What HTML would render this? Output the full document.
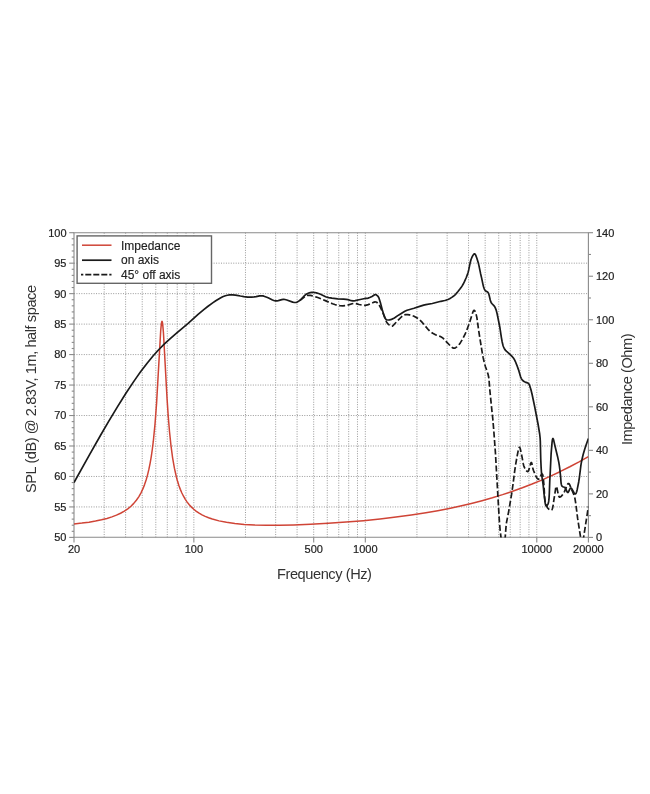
<!DOCTYPE html><html><head><meta charset="utf-8"><style>html,body{margin:0;padding:0;background:#fff;}svg{display:block;filter:blur(0.3px);}text{font-family:"Liberation Sans",sans-serif;}</style></head><body><svg width="650" height="794" viewBox="0 0 650 794"><rect width="650" height="794" fill="#fff"/><g stroke="#999" stroke-width="1" stroke-dasharray="1 1.45"><line x1="104.19" y1="232.70" x2="104.19" y2="537.40"/><line x1="125.62" y1="232.70" x2="125.62" y2="537.40"/><line x1="142.23" y1="232.70" x2="142.23" y2="537.40"/><line x1="155.81" y1="232.70" x2="155.81" y2="537.40"/><line x1="167.29" y1="232.70" x2="167.29" y2="537.40"/><line x1="177.23" y1="232.70" x2="177.23" y2="537.40"/><line x1="186.00" y1="232.70" x2="186.00" y2="537.40"/><line x1="193.85" y1="232.70" x2="193.85" y2="537.40"/><line x1="245.47" y1="232.70" x2="245.47" y2="537.40"/><line x1="275.66" y1="232.70" x2="275.66" y2="537.40"/><line x1="297.08" y1="232.70" x2="297.08" y2="537.40"/><line x1="313.70" y1="232.70" x2="313.70" y2="537.40"/><line x1="327.28" y1="232.70" x2="327.28" y2="537.40"/><line x1="338.76" y1="232.70" x2="338.76" y2="537.40"/><line x1="348.70" y1="232.70" x2="348.70" y2="537.40"/><line x1="357.47" y1="232.70" x2="357.47" y2="537.40"/><line x1="365.32" y1="232.70" x2="365.32" y2="537.40"/><line x1="416.93" y1="232.70" x2="416.93" y2="537.40"/><line x1="447.13" y1="232.70" x2="447.13" y2="537.40"/><line x1="468.55" y1="232.70" x2="468.55" y2="537.40"/><line x1="485.17" y1="232.70" x2="485.17" y2="537.40"/><line x1="498.74" y1="232.70" x2="498.74" y2="537.40"/><line x1="510.22" y1="232.70" x2="510.22" y2="537.40"/><line x1="520.17" y1="232.70" x2="520.17" y2="537.40"/><line x1="528.94" y1="232.70" x2="528.94" y2="537.40"/><line x1="536.78" y1="232.70" x2="536.78" y2="537.40"/><line x1="74.00" y1="506.93" x2="588.40" y2="506.93"/><line x1="74.00" y1="476.46" x2="588.40" y2="476.46"/><line x1="74.00" y1="445.99" x2="588.40" y2="445.99"/><line x1="74.00" y1="415.52" x2="588.40" y2="415.52"/><line x1="74.00" y1="385.05" x2="588.40" y2="385.05"/><line x1="74.00" y1="354.58" x2="588.40" y2="354.58"/><line x1="74.00" y1="324.11" x2="588.40" y2="324.11"/><line x1="74.00" y1="293.64" x2="588.40" y2="293.64"/><line x1="74.00" y1="263.17" x2="588.40" y2="263.17"/></g><g stroke="#8a8a8a" stroke-width="1.1"><line x1="73.50" y1="232.70" x2="588.90" y2="232.70"/><line x1="73.50" y1="537.30" x2="588.90" y2="537.30"/><line x1="74.00" y1="232.70" x2="74.00" y2="537.40"/><line x1="588.40" y1="232.70" x2="588.40" y2="537.40"/><line x1="69.20" y1="537.40" x2="74.00" y2="537.40"/><line x1="71.70" y1="531.31" x2="74.00" y2="531.31"/><line x1="71.70" y1="525.21" x2="74.00" y2="525.21"/><line x1="71.70" y1="519.12" x2="74.00" y2="519.12"/><line x1="71.70" y1="513.02" x2="74.00" y2="513.02"/><line x1="69.20" y1="506.93" x2="74.00" y2="506.93"/><line x1="71.70" y1="500.84" x2="74.00" y2="500.84"/><line x1="71.70" y1="494.74" x2="74.00" y2="494.74"/><line x1="71.70" y1="488.65" x2="74.00" y2="488.65"/><line x1="71.70" y1="482.55" x2="74.00" y2="482.55"/><line x1="69.20" y1="476.46" x2="74.00" y2="476.46"/><line x1="71.70" y1="470.37" x2="74.00" y2="470.37"/><line x1="71.70" y1="464.27" x2="74.00" y2="464.27"/><line x1="71.70" y1="458.18" x2="74.00" y2="458.18"/><line x1="71.70" y1="452.08" x2="74.00" y2="452.08"/><line x1="69.20" y1="445.99" x2="74.00" y2="445.99"/><line x1="71.70" y1="439.90" x2="74.00" y2="439.90"/><line x1="71.70" y1="433.80" x2="74.00" y2="433.80"/><line x1="71.70" y1="427.71" x2="74.00" y2="427.71"/><line x1="71.70" y1="421.61" x2="74.00" y2="421.61"/><line x1="69.20" y1="415.52" x2="74.00" y2="415.52"/><line x1="71.70" y1="409.43" x2="74.00" y2="409.43"/><line x1="71.70" y1="403.33" x2="74.00" y2="403.33"/><line x1="71.70" y1="397.24" x2="74.00" y2="397.24"/><line x1="71.70" y1="391.14" x2="74.00" y2="391.14"/><line x1="69.20" y1="385.05" x2="74.00" y2="385.05"/><line x1="71.70" y1="378.96" x2="74.00" y2="378.96"/><line x1="71.70" y1="372.86" x2="74.00" y2="372.86"/><line x1="71.70" y1="366.77" x2="74.00" y2="366.77"/><line x1="71.70" y1="360.67" x2="74.00" y2="360.67"/><line x1="69.20" y1="354.58" x2="74.00" y2="354.58"/><line x1="71.70" y1="348.49" x2="74.00" y2="348.49"/><line x1="71.70" y1="342.39" x2="74.00" y2="342.39"/><line x1="71.70" y1="336.30" x2="74.00" y2="336.30"/><line x1="71.70" y1="330.20" x2="74.00" y2="330.20"/><line x1="69.20" y1="324.11" x2="74.00" y2="324.11"/><line x1="71.70" y1="318.02" x2="74.00" y2="318.02"/><line x1="71.70" y1="311.92" x2="74.00" y2="311.92"/><line x1="71.70" y1="305.83" x2="74.00" y2="305.83"/><line x1="71.70" y1="299.73" x2="74.00" y2="299.73"/><line x1="69.20" y1="293.64" x2="74.00" y2="293.64"/><line x1="71.70" y1="287.55" x2="74.00" y2="287.55"/><line x1="71.70" y1="281.45" x2="74.00" y2="281.45"/><line x1="71.70" y1="275.36" x2="74.00" y2="275.36"/><line x1="71.70" y1="269.26" x2="74.00" y2="269.26"/><line x1="69.20" y1="263.17" x2="74.00" y2="263.17"/><line x1="71.70" y1="257.08" x2="74.00" y2="257.08"/><line x1="71.70" y1="250.98" x2="74.00" y2="250.98"/><line x1="71.70" y1="244.89" x2="74.00" y2="244.89"/><line x1="71.70" y1="238.79" x2="74.00" y2="238.79"/><line x1="69.20" y1="232.70" x2="74.00" y2="232.70"/><line x1="588.40" y1="537.40" x2="593.00" y2="537.40"/><line x1="588.40" y1="515.64" x2="591.00" y2="515.64"/><line x1="588.40" y1="493.87" x2="593.00" y2="493.87"/><line x1="588.40" y1="472.11" x2="591.00" y2="472.11"/><line x1="588.40" y1="450.34" x2="593.00" y2="450.34"/><line x1="588.40" y1="428.58" x2="591.00" y2="428.58"/><line x1="588.40" y1="406.81" x2="593.00" y2="406.81"/><line x1="588.40" y1="385.05" x2="591.00" y2="385.05"/><line x1="588.40" y1="363.29" x2="593.00" y2="363.29"/><line x1="588.40" y1="341.52" x2="591.00" y2="341.52"/><line x1="588.40" y1="319.76" x2="593.00" y2="319.76"/><line x1="588.40" y1="297.99" x2="591.00" y2="297.99"/><line x1="588.40" y1="276.23" x2="593.00" y2="276.23"/><line x1="588.40" y1="254.46" x2="591.00" y2="254.46"/><line x1="588.40" y1="232.70" x2="593.00" y2="232.70"/><line x1="74.00" y1="537.40" x2="74.00" y2="542.60"/><line x1="193.85" y1="537.40" x2="193.85" y2="542.60"/><line x1="313.70" y1="537.40" x2="313.70" y2="542.60"/><line x1="365.32" y1="537.40" x2="365.32" y2="542.60"/><line x1="536.78" y1="537.40" x2="536.78" y2="542.60"/><line x1="588.40" y1="537.40" x2="588.40" y2="542.60"/></g><g font-size="11" fill="#222" stroke="#222" stroke-width="0.2"><text x="66.5" y="541.30" text-anchor="end">50</text><text x="66.5" y="510.83" text-anchor="end">55</text><text x="66.5" y="480.36" text-anchor="end">60</text><text x="66.5" y="449.89" text-anchor="end">65</text><text x="66.5" y="419.42" text-anchor="end">70</text><text x="66.5" y="388.95" text-anchor="end">75</text><text x="66.5" y="358.48" text-anchor="end">80</text><text x="66.5" y="328.01" text-anchor="end">85</text><text x="66.5" y="297.54" text-anchor="end">90</text><text x="66.5" y="267.07" text-anchor="end">95</text><text x="66.5" y="236.60" text-anchor="end">100</text><text x="596" y="541.30">0</text><text x="596" y="497.77">20</text><text x="596" y="454.24">40</text><text x="596" y="410.71">60</text><text x="596" y="367.19">80</text><text x="596" y="323.66">100</text><text x="596" y="280.13">120</text><text x="596" y="236.60">140</text><text x="74.00" y="552.6" text-anchor="middle">20</text><text x="193.85" y="552.6" text-anchor="middle">100</text><text x="313.70" y="552.6" text-anchor="middle">500</text><text x="365.32" y="552.6" text-anchor="middle">1000</text><text x="536.78" y="552.6" text-anchor="middle">10000</text><text x="588.40" y="552.6" text-anchor="middle">20000</text></g><text x="277" y="579.2" font-size="14.6" letter-spacing="-0.43" fill="#333">Frequency (Hz)</text><text transform="translate(36,493) rotate(-90)" font-size="14.6" letter-spacing="-0.43" fill="#333">SPL (dB) @ 2.83V, 1m, half space</text><text transform="translate(632,445) rotate(-90)" font-size="14.6" letter-spacing="-0.43" fill="#333">Impedance (Ohm)</text><defs><clipPath id="pc"><rect x="74.00" y="232.70" width="514.40" height="304.70"/></clipPath></defs><g clip-path="url(#pc)" fill="none" stroke-linejoin="round" stroke-linecap="butt"><path d="M74.00,523.97 L81.89,523.11 L89.01,522.15 L95.52,521.06 L101.52,519.82 L106.93,518.44 L111.90,516.90 L116.45,515.17 L120.56,513.27 L124.33,511.16 L127.76,508.83 L130.94,506.22 L133.77,503.39 L136.34,500.30 L138.74,496.82 L140.88,493.07 L142.86,488.92 L144.57,484.60 L146.11,479.99 L147.57,474.83 L148.86,469.44 L150.14,463.07 L151.26,456.55 L152.29,449.49 L153.32,441.20 L155.03,423.85 L156.57,403.33 L160.69,330.90 L161.38,323.64 L161.72,321.83 L161.98,321.35 L162.15,321.47 L162.32,321.94 L162.66,323.90 L163.43,332.65 L167.04,398.40 L168.24,416.21 L169.52,431.72 L170.98,445.66 L172.61,457.80 L174.41,468.18 L176.38,476.97 L177.58,481.35 L178.96,485.66 L180.33,489.37 L181.87,492.97 L183.50,496.23 L185.30,499.33 L187.19,502.11 L189.24,504.71 L191.47,507.12 L193.79,509.26 L196.36,511.29 L199.11,513.14 L202.02,514.81 L205.19,516.36 L208.62,517.77 L212.31,519.05 L219.00,520.87 L226.46,522.35 L234.86,523.52 L244.21,524.39 L254.67,524.96 L266.33,525.24 L279.37,525.23 L293.69,524.93 L310.58,524.29 L328.24,523.33 L346.08,522.10 L363.48,520.64 L380.03,518.98 L395.98,517.11 L411.25,515.04 L425.91,512.76 L437.74,510.69 L449.23,508.45 L460.46,506.04 L471.35,503.47 L481.99,500.71 L492.36,497.78 L502.57,494.65 L512.60,491.31 L522.37,487.80 L532.06,484.05 L541.67,480.07 L551.10,475.88 L560.45,471.45 L569.79,466.75 L579.05,461.81 L588.40,456.54" stroke="#cf4436" stroke-width="1.5"/><path d="M300.00,300.30 L304.27,296.98 L305.50,296.17 L306.76,295.58 L307.40,295.40 L307.99,295.30 L309.19,295.27 L310.40,295.42 L311.63,295.70 L316.38,297.07 L319.67,298.28 L325.34,300.61 L330.45,302.90 L332.53,303.76 L334.81,304.53 L336.85,305.12 L338.37,305.44 L339.90,305.66 L342.89,305.79 L345.50,305.60 L347.62,305.12 L352.14,303.71 L353.54,303.44 L354.20,303.40 L355.17,303.46 L356.09,303.62 L359.15,304.51 L362.30,305.17 L363.66,305.37 L365.00,305.40 L366.36,305.18 L368.17,304.61 L370.83,303.64 L374.27,302.07 L375.04,301.90 L375.91,302.00 L376.63,302.31 L377.50,302.94 L378.33,303.74 L379.12,304.85 L380.70,307.89 L382.29,311.37 L384.46,316.44 L385.84,320.36 L386.64,322.12 L387.30,323.10 L387.97,323.85 L389.14,324.93 L389.97,325.52 L390.78,325.96 L391.55,326.19 L392.18,326.15 L392.72,325.90 L393.22,325.47 L394.73,323.77 L401.56,316.74 L402.70,315.79 L403.82,315.19 L404.65,314.89 L405.54,314.70 L406.50,314.60 L407.46,314.61 L409.60,314.88 L412.37,315.61 L414.02,316.26 L416.25,317.42 L418.39,318.83 L419.90,320.02 L421.74,321.91 L428.35,329.68 L429.73,331.09 L430.62,331.84 L432.77,333.26 L435.50,334.70 L436.55,335.16 L440.45,336.57 L442.00,337.40 L442.97,338.15 L443.88,339.01 L446.48,341.88 L451.16,346.67 L452.24,347.55 L452.78,347.88 L453.30,348.10 L453.80,348.20 L454.57,348.14 L455.68,347.67 L456.77,346.86 L458.20,345.50 L459.31,344.23 L460.43,342.68 L462.61,339.02 L465.08,334.22 L466.79,330.11 L469.90,321.59 L472.29,313.73 L473.05,311.68 L473.42,310.95 L473.77,310.48 L474.10,310.30 L474.30,310.35 L474.51,310.50 L474.90,311.06 L475.46,312.39 L476.30,315.10 L476.79,317.12 L477.39,320.81 L478.60,330.20 L482.10,351.93 L483.10,357.40 L484.19,362.08 L485.40,366.50 L487.98,373.94 L488.61,376.72 L488.95,379.09 L489.90,390.70 L491.40,405.80 L492.78,418.73 L493.75,430.17 L495.44,452.99 L498.54,507.38 L499.39,521.13 L500.10,529.78 L501.07,538.04 L501.33,541.93 L501.50,542.98 L501.79,543.75 L502.15,544.11 L502.69,544.31 L503.31,544.34 L503.89,544.19 L504.20,544.00 L504.41,543.75 L504.58,543.41 L504.81,542.51 L506.02,526.79 L506.53,522.39 L508.66,511.54 L511.61,494.19 L512.59,487.44 L514.64,471.42 L515.72,464.06 L517.23,455.55 L518.11,451.05 L518.68,448.78 L518.96,447.99 L519.24,447.48 L519.50,447.30 L519.69,447.39 L520.04,448.08 L520.56,450.02 L522.02,456.89 L523.24,463.66 L523.76,465.70 L524.40,467.40 L524.90,468.39 L525.76,469.84 L526.37,470.67 L526.97,471.28 L527.54,471.59 L527.80,471.60 L528.14,471.37 L528.47,470.85 L529.10,469.13 L530.54,463.87 L531.06,462.66 L531.30,462.50 L531.50,462.61 L531.85,463.36 L532.75,467.90 L533.40,470.20 L535.69,475.77 L536.58,477.47 L537.46,478.70 L537.89,479.06 L538.30,479.20 L538.63,479.11 L538.96,478.83 L539.65,477.84 L540.99,475.27 L541.59,474.32 L541.86,474.06 L542.10,474.00 L542.37,474.19 L542.61,474.60 L542.81,475.21 L543.13,476.88 L544.04,485.98 L544.62,497.32 L544.91,500.31 L545.13,501.63 L545.40,502.80 L546.00,504.67 L546.97,506.81 L547.51,507.71 L548.09,508.47 L549.38,509.67 L550.45,510.28 L550.95,510.39 L551.40,510.30 L551.80,509.94 L552.15,509.30 L552.46,508.43 L552.74,507.35 L553.21,504.78 L553.99,499.11 L554.75,494.68 L555.52,489.25 L555.84,487.60 L556.20,486.64 L556.40,486.50 L556.61,486.69 L556.82,487.24 L558.20,494.14 L558.80,496.15 L559.13,496.79 L559.50,497.10 L560.04,497.08 L560.64,496.77 L561.61,495.90 L563.20,494.00 L563.67,493.30 L564.60,491.37 L566.86,485.70 L567.70,484.12 L568.11,483.66 L568.50,483.50 L568.79,483.58 L569.34,484.13 L569.87,485.10 L571.36,488.93 L573.43,493.58 L574.38,496.32 L574.93,498.48 L575.76,503.36 L577.60,518.20 L580.60,537.40 L581.12,542.63 L581.31,543.49 L581.60,544.00 L582.10,544.18 L582.60,544.00 L582.89,543.51 L583.07,542.68 L583.60,537.40 L588.40,506.50" stroke="#1a1a1a" stroke-width="1.7" stroke-dasharray="6 2.5"/><path d="M74.00,482.50 L89.99,453.89 L100.86,434.79 L108.51,421.62 L117.26,407.08 L125.76,393.52 L133.48,381.89 L137.13,376.61 L140.75,371.57 L147.12,363.18 L153.01,356.02 L158.42,350.00 L164.45,343.90 L170.24,338.53 L176.56,333.04 L187.85,323.57 L198.08,314.38 L203.48,309.86 L207.72,306.52 L212.33,303.12 L215.77,300.82 L220.37,298.01 L222.68,296.83 L225.35,295.74 L227.28,295.22 L229.57,294.96 L232.67,294.91 L235.42,295.11 L236.97,295.32 L240.42,296.03 L243.86,296.60 L247.69,297.07 L249.61,297.19 L251.62,297.14 L254.12,296.90 L256.10,296.63 L259.65,295.94 L260.81,295.81 L261.90,295.80 L262.76,295.90 L263.94,296.18 L266.80,297.20 L268.11,297.76 L272.50,299.99 L274.01,300.57 L274.76,300.77 L275.50,300.90 L276.89,300.89 L278.28,300.62 L281.80,299.62 L283.25,299.41 L284.00,299.40 L284.90,299.50 L286.81,299.99 L292.71,302.14 L294.43,302.49 L295.20,302.50 L296.13,302.36 L297.36,301.94 L298.48,301.33 L300.00,300.30 L301.52,298.94 L304.58,295.52 L305.65,294.57 L306.20,294.20 L307.17,293.67 L308.68,293.03 L310.23,292.59 L311.78,292.34 L313.32,292.30 L314.83,292.50 L316.37,292.86 L318.50,293.50 L320.55,294.30 L325.60,296.68 L327.10,297.20 L328.68,297.59 L331.93,298.15 L337.73,298.78 L343.68,299.10 L346.06,299.30 L347.90,299.63 L351.39,300.69 L352.90,300.90 L354.00,300.85 L355.13,300.68 L359.07,299.71 L363.77,298.73 L365.29,298.46 L367.08,298.29 L368.10,298.10 L369.72,297.54 L372.00,296.50 L374.59,294.79 L375.13,294.61 L375.64,294.63 L376.12,294.78 L376.60,295.04 L377.50,295.80 L378.35,296.87 L379.01,298.22 L380.60,303.36 L382.27,309.79 L383.81,314.98 L384.56,317.16 L385.14,318.35 L385.80,319.20 L386.24,319.53 L386.71,319.76 L387.98,319.99 L389.53,319.93 L391.51,319.36 L393.90,318.29 L395.08,317.56 L397.73,315.64 L399.68,314.41 L404.84,311.32 L407.05,310.28 L408.81,309.71 L414.00,308.30 L420.45,306.08 L423.70,305.10 L425.88,304.62 L432.30,303.50 L440.90,301.30 L444.77,300.49 L446.35,300.08 L447.95,299.47 L449.61,298.66 L451.77,297.38 L453.31,296.29 L454.79,295.03 L456.20,293.60 L457.97,291.54 L459.92,289.09 L461.24,287.30 L462.17,285.88 L463.10,284.30 L464.32,281.96 L466.28,277.53 L467.36,274.67 L468.06,272.52 L468.71,269.93 L470.10,263.08 L471.04,259.55 L471.88,257.49 L472.93,255.37 L473.74,254.22 L474.25,253.84 L474.50,253.80 L474.77,253.89 L475.03,254.11 L475.29,254.44 L475.80,255.39 L476.79,258.00 L478.19,262.41 L478.84,265.09 L480.66,273.94 L481.59,277.92 L482.95,284.34 L483.54,286.71 L484.21,288.75 L484.59,289.59 L485.23,290.60 L485.74,291.04 L487.63,292.09 L488.10,292.60 L488.43,293.17 L488.72,293.84 L489.20,295.45 L490.25,300.03 L490.78,301.69 L491.10,302.40 L492.05,303.77 L493.86,305.65 L494.57,306.52 L495.20,307.60 L496.08,309.84 L497.18,313.97 L499.78,326.97 L501.40,337.56 L502.12,341.72 L503.02,345.43 L503.57,347.02 L504.20,348.40 L504.62,349.12 L505.57,350.36 L506.61,351.40 L509.75,354.04 L512.52,356.94 L513.42,358.05 L514.00,358.90 L514.71,360.15 L515.37,361.52 L516.90,365.33 L518.45,369.59 L520.59,376.73 L521.25,378.35 L521.60,379.00 L522.18,379.85 L522.76,380.52 L524.10,381.60 L525.14,382.10 L527.54,382.88 L528.22,383.26 L528.75,383.77 L529.15,384.37 L529.61,385.39 L530.90,389.54 L532.12,394.55 L534.59,406.25 L538.08,424.26 L539.68,433.99 L540.10,437.80 L540.31,441.15 L540.73,458.79 L541.13,467.57 L541.50,472.94 L541.93,476.71 L543.10,484.60 L544.19,495.04 L545.19,502.97 L545.56,504.89 L545.89,505.64 L546.23,505.83 L546.51,505.78 L546.83,505.61 L547.47,504.97 L547.90,504.30 L548.28,503.28 L548.59,501.88 L548.84,500.15 L549.04,498.15 L549.32,493.53 L549.77,480.89 L550.17,473.76 L551.10,453.94 L552.05,442.47 L552.43,439.65 L552.73,438.65 L552.90,438.50 L553.06,438.59 L553.23,438.87 L553.78,440.61 L554.99,445.95 L557.54,456.43 L558.76,462.18 L559.34,465.63 L559.73,468.71 L560.61,476.53 L560.94,481.51 L561.14,483.35 L561.47,484.93 L561.70,485.57 L562.00,486.10 L562.42,486.53 L562.91,486.80 L564.26,487.24 L565.00,487.70 L565.27,488.02 L565.78,488.90 L567.11,491.89 L567.56,492.42 L567.80,492.50 L568.04,492.42 L568.52,491.81 L569.74,489.19 L570.25,488.35 L570.52,488.10 L570.80,488.00 L571.14,488.11 L571.51,488.45 L572.29,489.59 L574.27,493.15 L574.64,493.63 L574.98,493.93 L575.30,494.00 L575.65,493.82 L575.97,493.42 L576.27,492.83 L576.81,491.20 L577.29,489.13 L578.70,481.98 L579.48,476.77 L580.86,465.57 L581.40,462.30 L582.32,457.99 L583.30,454.08 L584.70,449.21 L586.00,445.30 L588.40,438.50" stroke="#1a1a1a" stroke-width="1.7"/></g><rect x="77.1" y="235.9" width="134.4" height="47.4" fill="#fff" stroke="#666" stroke-width="1.4"/><line x1="82" y1="245.2" x2="111.5" y2="245.2" stroke="#cf4436" stroke-width="1.5"/><line x1="82" y1="260.2" x2="111.5" y2="260.2" stroke="#1a1a1a" stroke-width="1.7"/><line x1="81" y1="274.6" x2="111.5" y2="274.6" stroke="#1a1a1a" stroke-width="1.7" stroke-dasharray="2.3 2 6 2 6 2 6 2 6 2"/><g font-size="12" fill="#222" stroke="#222" stroke-width="0.15"><text x="121" y="249.7">Impedance</text><text x="121" y="264.4">on axis</text><text x="121" y="278.6">45° off axis</text></g></svg></body></html>
